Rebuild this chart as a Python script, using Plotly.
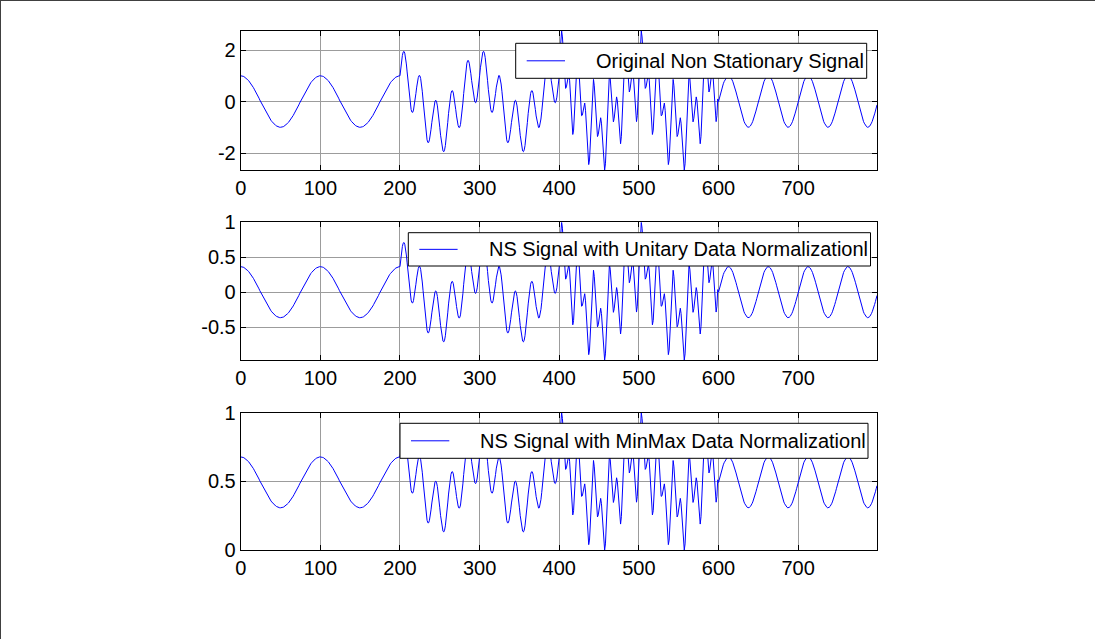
import numpy as np
import plotly.graph_objects as go

# ---------------- data (sample index 0..799) ----------------
# samples 0-199 : slow oscillation
seg_a = [1.00, 1.00, 0.99, 0.98, 0.97, 0.95, 0.93, 0.91, 0.88, 0.84,
         0.81, 0.77, 0.73, 0.69, 0.64, 0.59, 0.54, 0.48, 0.43, 0.37,
         0.31, 0.25, 0.19, 0.13, 0.06, 0.00, -0.06, -0.13, -0.19, -0.25,
         -0.31, -0.37, -0.43, -0.48, -0.54, -0.59, -0.64, -0.69, -0.73, -0.77,
         -0.81, -0.84, -0.88, -0.91, -0.93, -0.95, -0.97, -0.98, -0.99, -1.00,
         -1.00, -1.00, -0.99, -0.98, -0.97, -0.95, -0.93, -0.91, -0.88, -0.84,
         -0.81, -0.77, -0.73, -0.69, -0.64, -0.59, -0.54, -0.48, -0.43, -0.37,
         -0.31, -0.25, -0.19, -0.13, -0.06, 0.00, 0.06, 0.13, 0.19, 0.25,
         0.31, 0.37, 0.43, 0.48, 0.54, 0.59, 0.64, 0.69, 0.73, 0.77,
         0.81, 0.84, 0.88, 0.91, 0.93, 0.95, 0.97, 0.98, 0.99, 1.00,
         1.00, 1.00, 0.99, 0.98, 0.97, 0.95, 0.93, 0.91, 0.88, 0.84,
         0.81, 0.77, 0.73, 0.69, 0.64, 0.59, 0.54, 0.48, 0.43, 0.37,
         0.31, 0.25, 0.19, 0.13, 0.06, 0.00, -0.06, -0.13, -0.19, -0.25,
         -0.31, -0.37, -0.43, -0.48, -0.54, -0.59, -0.64, -0.69, -0.73, -0.77,
         -0.81, -0.84, -0.88, -0.91, -0.93, -0.95, -0.97, -0.98, -0.99, -1.00,
         -1.00, -1.00, -0.99, -0.98, -0.97, -0.95, -0.93, -0.91, -0.88, -0.84,
         -0.81, -0.77, -0.73, -0.69, -0.64, -0.59, -0.54, -0.48, -0.43, -0.37,
         -0.31, -0.25, -0.19, -0.13, -0.06, 0.00, 0.06, 0.13, 0.19, 0.25,
         0.31, 0.37, 0.43, 0.48, 0.54, 0.59, 0.64, 0.69, 0.73, 0.77,
         0.81, 0.84, 0.88, 0.91, 0.93, 0.95, 0.97, 0.98, 0.99, 1.00]

# samples 200-399 : two-tone section
seg_b = [1.00, 1.31, 1.58, 1.79, 1.92, 1.95, 1.88, 1.71, 1.46, 1.15,
         0.81, 0.46, 0.14, -0.12, -0.31, -0.41, -0.42, -0.33, -0.16, 0.06,
         0.31, 0.56, 0.78, 0.93, 1.01, 1.00, 0.89, 0.68, 0.40, 0.06,
         -0.31, -0.68, -1.01, -1.29, -1.49, -1.59, -1.59, -1.49, -1.32, -1.08,
         -0.81, -0.54, -0.29, -0.10, 0.02, 0.05, -0.02, -0.17, -0.40, -0.69,
         -1.00, -1.31, -1.58, -1.79, -1.92, -1.95, -1.88, -1.71, -1.46, -1.15,
         -0.81, -0.46, -0.14, 0.12, 0.31, 0.41, 0.42, 0.33, 0.16, -0.06,
         -0.31, -0.56, -0.78, -0.93, -1.01, -1.00, -0.89, -0.68, -0.40, -0.06,
         0.31, 0.68, 1.01, 1.29, 1.49, 1.59, 1.59, 1.49, 1.32, 1.08,
         0.81, 0.54, 0.29, 0.10, -0.02, -0.05, 0.02, 0.17, 0.40, 0.69,
         1.00, 1.31, 1.58, 1.79, 1.92, 1.95, 1.88, 1.71, 1.46, 1.15,
         0.81, 0.46, 0.14, -0.12, -0.31, -0.41, -0.42, -0.33, -0.16, 0.06,
         0.31, 0.56, 0.78, 0.93, 1.01, 1.00, 0.89, 0.68, 0.40, 0.06,
         -0.31, -0.68, -1.01, -1.29, -1.49, -1.59, -1.59, -1.49, -1.32, -1.08,
         -0.81, -0.54, -0.29, -0.10, 0.02, 0.05, -0.02, -0.17, -0.40, -0.69,
         -1.00, -1.31, -1.58, -1.79, -1.92, -1.95, -1.88, -1.71, -1.46, -1.15,
         -0.81, -0.46, -0.14, 0.12, 0.31, 0.41, 0.42, 0.33, 0.16, -0.06,
         -0.31, -0.56, -0.78, -0.93, -1.01, -1.00, -0.89, -0.68, -0.40, -0.06,
         0.31, 0.68, 1.01, 1.29, 1.49, 1.59, 1.59, 1.49, 1.32, 1.08,
         0.81, 0.54, 0.29, 0.10, -0.02, -0.05, 0.02, 0.17, 0.40, 0.69]

# samples 400-599 : three-tone section
seg_c = [1.00, 1.90, 2.53, 2.74, 2.51, 1.95, 1.29, 0.76, 0.51, 0.57,
         0.81, 1.05, 1.09, 0.83, 0.27, -0.41, -1.00, -1.28, -1.11, -0.53,
         0.31, 1.15, 1.73, 1.89, 1.60, 1.00, 0.30, -0.27, -0.55, -0.53,
         -0.31, -0.09, -0.06, -0.34, -0.90, -1.59, -2.18, -2.45, -2.27, -1.67,
         -0.81, 0.05, 0.66, 0.86, 0.61, 0.05, -0.61, -1.12, -1.36, -1.28,
         -1.00, -0.72, -0.63, -0.84, -1.33, -1.95, -2.47, -2.66, -2.42, -1.74,
         -0.81, 0.13, 0.81, 1.08, 0.90, 0.41, -0.17, -0.62, -0.79, -0.65,
         -0.31, 0.03, 0.18, 0.02, -0.43, -1.00, -1.48, -1.64, -1.35, -0.65,
         0.31, 1.27, 1.97, 2.24, 2.08, 1.59, 1.00, 0.54, 0.37, 0.49,
         0.81, 1.12, 1.24, 1.05, 0.57, -0.05, -0.57, -0.78, -0.55, 0.10,
         1.00, 1.90, 2.53, 2.74, 2.51, 1.95, 1.29, 0.76, 0.51, 0.57,
         0.81, 1.05, 1.09, 0.83, 0.27, -0.41, -1.00, -1.28, -1.11, -0.53,
         0.31, 1.15, 1.73, 1.89, 1.60, 1.00, 0.30, -0.27, -0.55, -0.53,
         -0.31, -0.09, -0.06, -0.34, -0.90, -1.59, -2.18, -2.45, -2.27, -1.67,
         -0.81, 0.05, 0.66, 0.86, 0.61, 0.05, -0.61, -1.12, -1.36, -1.28,
         -1.00, -0.72, -0.63, -0.84, -1.33, -1.95, -2.47, -2.66, -2.42, -1.74,
         -0.81, 0.13, 0.81, 1.08, 0.90, 0.41, -0.17, -0.62, -0.79, -0.65,
         -0.31, 0.03, 0.18, 0.02, -0.43, -1.00, -1.48, -1.64, -1.35, -0.65,
         0.31, 1.27, 1.97, 2.24, 2.08, 1.59, 1.00, 0.54, 0.37, 0.49,
         0.81, 1.12, 1.24, 1.05, 0.57, -0.05, -0.57, -0.78, -0.55, 0.10]

# samples 600-799 : faster single tone
seg_d = [0.00, 0.13, 0.25, 0.37, 0.48, 0.59, 0.69, 0.77, 0.84, 0.91,
         0.95, 0.98, 1.00, 1.00, 0.98, 0.95, 0.91, 0.84, 0.77, 0.69,
         0.59, 0.48, 0.37, 0.25, 0.13, 0.00, -0.13, -0.25, -0.37, -0.48,
         -0.59, -0.69, -0.77, -0.84, -0.91, -0.95, -0.98, -1.00, -1.00, -0.98,
         -0.95, -0.91, -0.84, -0.77, -0.69, -0.59, -0.48, -0.37, -0.25, -0.13,
         0.00, 0.13, 0.25, 0.37, 0.48, 0.59, 0.69, 0.77, 0.84, 0.91,
         0.95, 0.98, 1.00, 1.00, 0.98, 0.95, 0.91, 0.84, 0.77, 0.69,
         0.59, 0.48, 0.37, 0.25, 0.13, 0.00, -0.13, -0.25, -0.37, -0.48,
         -0.59, -0.69, -0.77, -0.84, -0.91, -0.95, -0.98, -1.00, -1.00, -0.98,
         -0.95, -0.91, -0.84, -0.77, -0.69, -0.59, -0.48, -0.37, -0.25, -0.13,
         0.00, 0.13, 0.25, 0.37, 0.48, 0.59, 0.69, 0.77, 0.84, 0.91,
         0.95, 0.98, 1.00, 1.00, 0.98, 0.95, 0.91, 0.84, 0.77, 0.69,
         0.59, 0.48, 0.37, 0.25, 0.13, 0.00, -0.13, -0.25, -0.37, -0.48,
         -0.59, -0.69, -0.77, -0.84, -0.91, -0.95, -0.98, -1.00, -1.00, -0.98,
         -0.95, -0.91, -0.84, -0.77, -0.69, -0.59, -0.48, -0.37, -0.25, -0.13,
         0.00, 0.13, 0.25, 0.37, 0.48, 0.59, 0.69, 0.77, 0.84, 0.91,
         0.95, 0.98, 1.00, 1.00, 0.98, 0.95, 0.91, 0.84, 0.77, 0.69,
         0.59, 0.48, 0.37, 0.25, 0.13, 0.00, -0.13, -0.25, -0.37, -0.48,
         -0.59, -0.69, -0.77, -0.84, -0.91, -0.95, -0.98, -1.00, -1.00, -0.98,
         -0.95, -0.91, -0.84, -0.77, -0.69, -0.59, -0.48, -0.37, -0.25, -0.13]

legend_labels = ["Original Non Stationary Signal",
                 "NS Signal with Unitary Data Normalizationl",
                 "NS Signal with MinMax Data Normalizationl"]
x_ticks = [0, 100, 200, 300, 400, 500, 600, 700]
y_ticks = [[-2, 0, 2], [-0.5, 0, 0.5, 1], [0, 0.5, 1]]
y_ticktext = [["-2", "0", "2"], ["-0.5", "0", "0.5", "1"], ["0", "0.5", "1"]]

# ---------------- series ----------------
signal = np.array(seg_a + seg_b + seg_c + seg_d)
sample = np.arange(len(signal))
unitary = signal / np.abs(signal).max()
minmax = (signal - signal.min()) / (signal.max() - signal.min())
series = [signal, unitary, minmax]

# ---------------- layout helpers (pixel -> paper) ----------------
W, H = 1095, 639
def fx(p):
    return p / W
def fy(p):
    return 1 - p / H

AX_L, AX_R = 240.7, 877.0
AX_V = [(31.0, 170.0), (222.3, 360.0), (412.7, 550.0)]
LEG = [  # box left, top, right, bottom
    (515.7, 43.3, 866.7, 78.3),
    (408.3, 232.7, 870.5, 266.0),
    (400.0, 423.3, 868.0, 458.3),
]

FONT = "Liberation Sans, Arial, Helvetica, sans-serif"
BLUE = "#0000ff"

fig = go.Figure()
layout = dict(width=W, height=H,
              margin=dict(l=0, r=0, t=0, b=0, pad=0, autoexpand=False),
              paper_bgcolor="white", plot_bgcolor="white", showlegend=False,
              font=dict(family=FONT, size=20, color="black"))

shapes = []
annotations = []
for i in range(3):
    sfx = "" if i == 0 else str(i + 1)
    ys = series[i]
    fig.add_trace(go.Scatter(x=sample, y=ys, mode="lines",
                             line=dict(color=BLUE, width=1),
                             xaxis="x" + sfx, yaxis="y" + sfx,
                             name=legend_labels[i], hoverinfo="x+y"))
    top, bot = AX_V[i]
    common = dict(showline=True, linecolor="black", linewidth=1, mirror="allticks",
                  ticks="inside", ticklen=5, tickwidth=1, tickcolor="black",
                  showgrid=True, gridcolor="#9c9c9c", gridwidth=1, zeroline=False,
                  automargin=False,
                  tickfont=dict(family=FONT, size=20, color="black"))
    layout["xaxis" + sfx] = dict(domain=[fx(AX_L), fx(AX_R)], anchor="y" + sfx,
                                 range=[0, len(signal) - 1], tickmode="array",
                                 tickvals=x_ticks, ticktext=[str(v) for v in x_ticks],
                                 **common)
    layout["yaxis" + sfx] = dict(domain=[fy(bot), fy(top)], anchor="x" + sfx,
                                 range=[float(ys.min()), float(ys.max())], tickmode="array",
                                 tickvals=y_ticks[i], ticktext=y_ticktext[i],
                                 **common)
    # legend box
    l, t, r, b = LEG[i]
    cy = (t + b) / 2
    shapes.append(dict(type="rect", xref="paper", yref="paper",
                       x0=fx(l), x1=fx(r), y0=fy(b), y1=fy(t),
                       fillcolor="white", line=dict(color="black", width=1), layer="above"))
    shapes.append(dict(type="line", xref="paper", yref="paper",
                       x0=fx(l + 11), x1=fx(l + 49.3), y0=fy(cy), y1=fy(cy),
                       line=dict(color=BLUE, width=1), layer="above"))
    annotations.append(dict(xref="paper", yref="paper", x=fx(l + 78.3), y=fy(cy),
                            xanchor="left", yanchor="middle", showarrow=False,
                            text=legend_labels[i],
                            font=dict(family=FONT, size=20, color="black")))

# figure frame (top and left edges)
shapes.append(dict(type="line", xref="paper", yref="paper", x0=0, x1=1,
                   y0=fy(0.5), y1=fy(0.5), line=dict(color="#404040", width=1)))
shapes.append(dict(type="line", xref="paper", yref="paper", x0=fx(0.5), x1=fx(0.5),
                   y0=0, y1=1, line=dict(color="#404040", width=1)))

layout["shapes"] = shapes
layout["annotations"] = annotations
fig.update_layout(**layout)
fig.write_html("out.html")
